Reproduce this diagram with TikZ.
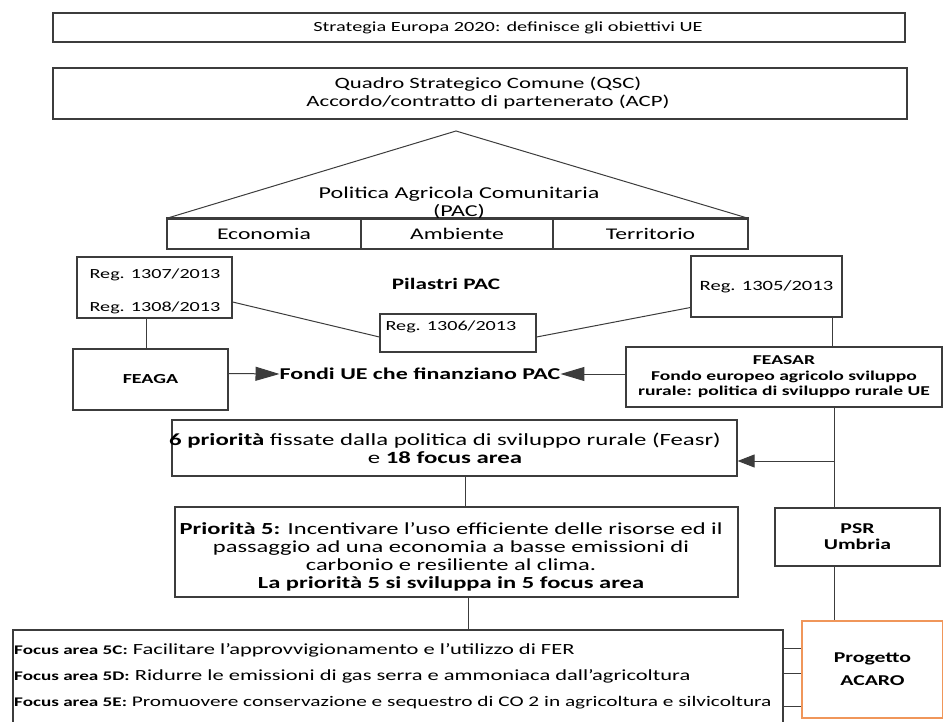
\documentclass[tikz,border=0pt]{standalone}
\usepackage{fontspec}
\setmainfont{Carlito}[FakeStretch=1.45]
\usetikzlibrary{arrows.meta,calc}
\definecolor{lc}{RGB}{60,60,60}
\definecolor{orng}{RGB}{240,150,90}
\newcommand\fz[1]{\fontsize{#1}{#1}\selectfont}
\begin{document}
\begin{tikzpicture}[x=1pt,y=-1pt,
  box/.style={draw=lc,line width=1.2pt,inner sep=0pt,align=center},
  txt/.style={inner sep=0pt,align=center},
  con/.style={draw=lc,line width=1pt},
  arr/.style={con,-{Triangle[length=24pt,width=14pt]}},
  arrs/.style={con,-{Triangle[length=17pt,width=13pt]}}]
\useasboundingbox (0,0) rectangle (943,722);
% top boxes
\node[box,minimum width=852pt,minimum height=29pt] (strat) at (479,27.5) {};
\node[txt,font=\fz{14}] (stratt) at (508,28) {Strategia Europa 2020: definisce gli obiettivi UE};
\node[box,minimum width=854pt,minimum height=51pt] (qsc) at (480,93.5) {};
\node[txt,font=\fz{15.7}] (qsct) at (488,93) {Quadro Strategico Comune (QSC)\\[3pt]Accordo/contratto di partenerato (ACP)};
% PAC roof
\node[box,minimum width=194pt,minimum height=30pt,font=\fz{16.3}] (econ) at (264,234) {Economia};
\node[box,minimum width=192pt,minimum height=30pt,font=\fz{16.3}] (amb) at (457,234) {Ambiente};
\node[box,minimum width=195pt,minimum height=30pt,font=\fz{16.3}] (terr) at (650.5,234) {Territorio};
\coordinate (apex) at (456,131);
\draw[con] (econ.north west) -- (apex) -- (terr.north east);
\draw[draw=lc,line width=2.2pt] (econ.north west) -- (terr.north east);
\node[txt,font=\fz{16.6}] (pac) at (459,203) {Politica Agricola Comunitaria\\[1pt](PAC)};
% regulations
\node[box,minimum width=155pt,minimum height=61pt] (regL) at (154.5,287.5) {};
\node[txt,font=\fz{13.9}] (regLt) at (155,291) {Reg. 1307/2013\\[19pt]Reg. 1308/2013};
\node[txt,font=\bfseries\fz{16}] (pil) at (446,284) {Pilastri PAC};
\node[box,minimum width=156pt,minimum height=38pt] (r1306) at (458,333) {};
\node[txt,font=\fz{13.9}] (r1306t) at (451,327) {Reg. 1306/2013};
\node[box,minimum width=151pt,minimum height=61pt,font=\fz{14.2}] (r1305) at (766.5,286.5) {Reg. 1305/2013};
\draw[con] ([yshift=-14.5pt]regL.east) -- ([yshift=-4pt]r1306.west);
\draw[con] ([yshift=-4pt]r1306.east) -- ([yshift=-21pt]r1305.west);
% funds
\node[box,minimum width=155pt,minimum height=61pt,font=\bfseries\fz{13.8}] (feaga) at (150.5,379.5) {FEAGA};
\node[txt,font=\bfseries\fz{16.5}] (fondi) at (420,374) {Fondi UE che finanziano PAC};
\node[box,minimum width=316pt,minimum height=60pt,font=\bfseries\fz{13.5}] (feasar) at (784,377) {FEASAR\\[2pt]Fondo europeo agricolo sviluppo\\[2pt]rurale: politica di sviluppo rurale UE};
\draw[con] ([xshift=-8.5pt]regL.south) -- ([xshift=-4.5pt]feaga.north);
\draw[con] ([xshift=65.5pt]r1305.south) -- ([xshift=48pt]feasar.north);
\draw[arr] ([yshift=6pt]feaga.east) -- (fondi.west);
\draw[arr] ([yshift=3pt]feasar.west) -- (fondi.east);
% priorities
\node[box,minimum width=565pt,minimum height=56pt] (prio6) at (454.5,448) {};
\node[txt,font=\fz{17.1}] (prio6t) at (445,448) {\textbf{6 priorità} fissate dalla politica di sviluppo rurale (Feasr)\\[1pt]e \textbf{18 focus area}};
\node[box,minimum width=563pt,minimum height=90pt] (prio5) at (456.5,552) {};
\node[txt,font=\fz{16.9}] (prio5t) at (451,557) {\textbf{Priorità 5:} Incentivare l'uso efficiente delle risorse ed il\\[1pt]passaggio ad una economia a basse emissioni di\\[1pt]carbonio e resiliente al clima.\\[1pt]\textbf{La priorità 5 si sviluppa in 5 focus area}};
\node[box,minimum width=165pt,minimum height=58pt,font=\bfseries\fz{15}] (psr) at (857.5,537) {PSR\\[1pt]Umbria};
\coordinate (vtop) at ([xshift=50pt]feasar.south);
\coordinate (p6e) at ([yshift=-13pt]prio6.east);
\draw[con] (vtop) -- (vtop |- psr.north);
\draw[arrs] (vtop |- p6e) -- (p6e);
\draw[con] ([xshift=10.5pt]prio6.south) -- ([xshift=10.5pt]prio6.south |- prio5.north);
% focus areas
\node[box,minimum width=770pt,minimum height=110pt] (focus) at (398,685) {};
\draw[con] ([xshift=11.5pt]prio5.south) -- ([xshift=11.5pt]prio5.south |- focus.north);
\node[txt,anchor=west,font=\fz{15.5}] (f5c) at (14,650) {\textbf{\fz{13.2}Focus area 5C:} Facilitare l'approvvigionamento e l'utilizzo di FER};
\node[txt,anchor=west,font=\fz{15.5}] (f5d) at (14,676) {\textbf{\fz{13.2}Focus area 5D:} Ridurre le emissioni di gas serra e ammoniaca dall'agricoltura};
\node[txt,anchor=west,font=\fz{14.7}] (f5e) at (14,703) {\textbf{\fz{13.2}Focus area 5E:} Promuovere conservazione e sequestro di CO 2 in agricoltura e silvicoltura};
\node[box,draw=orng,minimum width=141pt,minimum height=97pt,font=\bfseries\fz{15}] (prog) at (872.5,669.5) {Progetto\\[8pt]ACARO};
\draw[con] ([xshift=-23.5pt]psr.south) -- ([xshift=-38.5pt]prog.north);
\coordinate (c1) at ([yshift=37pt]focus.east);
\coordinate (c2) at ([yshift=12pt]focus.east);
\coordinate (c3) at ([yshift=-21pt]focus.east);
\draw[con] (c1) -- (c1 -| prog.west);
\draw[con] (c2) -- (c2 -| prog.west);
\draw[con] (c3) -- (c3 -| prog.west);
\end{tikzpicture}
\end{document}
